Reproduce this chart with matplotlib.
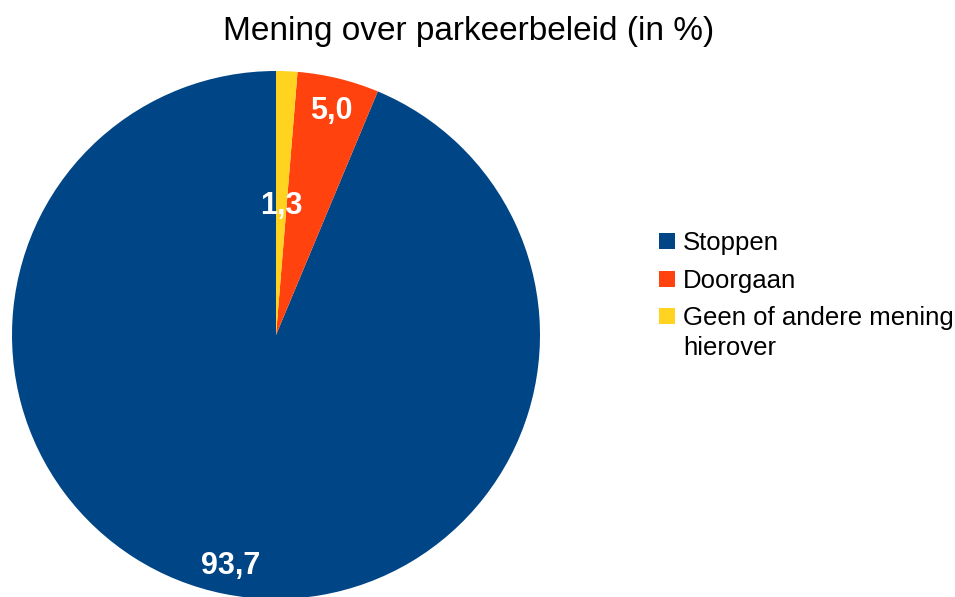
import matplotlib
matplotlib.use("Agg")
import matplotlib.pyplot as plt
import numpy as np
from matplotlib.patches import Rectangle

plt.rcParams['font.family'] = ['Liberation Sans', 'DejaVu Sans']

categories = ["Stoppen", "Doorgaan", "Geen of andere mening\nhierover"]
values = [93.7, 5.0, 1.3]
value_labels = ["93,7", "5,0", "1,3"]
colors = ["#004586", "#ff420e", "#ffd320"]
label_dist = [0.88, 0.885, 0.50]

W, H = 955, 597
fig = plt.figure(figsize=(W / 100, H / 100), dpi=100)
ax = fig.add_axes([0, 0, 1, 1])

cx, cy, r = 276, H - 335, 264
wedges, _ = ax.pie(values, colors=colors, startangle=90, counterclock=True,
                   center=(cx, cy), radius=r, frame=True,
                   wedgeprops=dict(linewidth=0))
ax.set_xlim(0, W)
ax.set_ylim(0, H)
ax.set_aspect("equal")
ax.axis("off")

lab_fs = 22
half_digit = lab_fs * 100 / 72 * 0.716 / 2
for w, lab, d in zip(wedges, value_labels, label_dist):
    ang = np.deg2rad((w.theta1 + w.theta2) / 2)
    x = cx + d * r * np.cos(ang)
    y = cy + d * r * np.sin(ang)
    ax.text(x, y - half_digit, lab, color="white", fontsize=lab_fs,
            fontweight="bold", ha="center", va="baseline")

fig.text(469 / W, 1 - 40 / H, "Mening over parkeerbeleid (in %)",
         ha="center", va="baseline", fontsize=24)

# legend
leg_fs = 18.5
sq = 16
line_h = 30
leg_rows_y = [241, 279, 316]
baselines = [250, 288, 325]
for c, name, yc, bl in zip(colors, categories, leg_rows_y, baselines):
    fig.patches.append(Rectangle((659 / W, 1 - (yc + sq / 2) / H), sq / W, sq / H,
                                 transform=fig.transFigure, facecolor=c,
                                 edgecolor="none"))
    for i, line in enumerate(name.split("\n")):
        fig.text(683 / W, 1 - (bl + i * line_h) / H, line, fontsize=leg_fs,
                 ha="left", va="baseline")

fig.savefig("out.png", dpi=100)
